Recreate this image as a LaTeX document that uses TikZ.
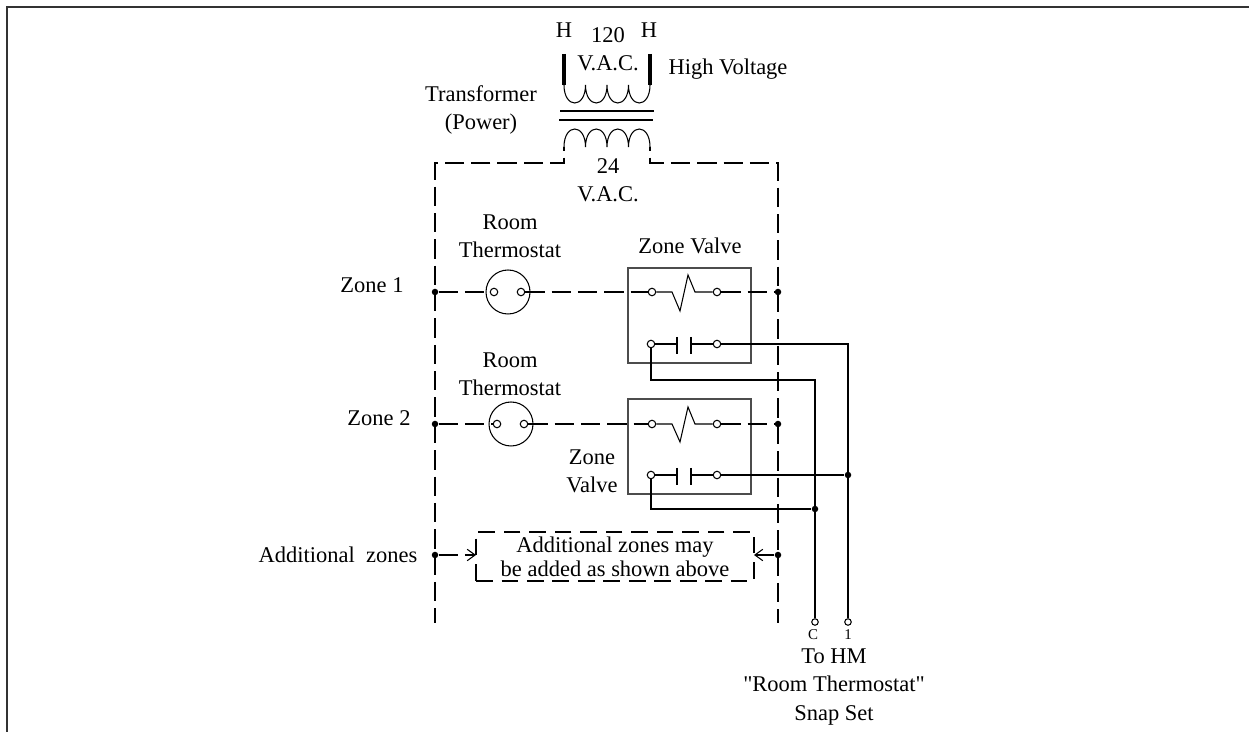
\documentclass[tikz,border=0pt]{standalone}
\usepackage{fontspec}
\setmainfont{Liberation Serif}
\newfontfamily\quotefont{Liberation Serif}
\usetikzlibrary{arrows.meta}
\tikzstyle{label}=[align=center,inner sep=0pt,font=\fontsize{12.8}{16}\selectfont]
\tikzstyle{tiny}=[inner sep=0pt,font=\fontsize{8.5}{10}\selectfont]
\tikzstyle{terminal}=[circle,draw,fill=white,line width=0.6pt,inner sep=0pt,minimum size=0.15cm]
\tikzstyle{junction}=[circle,fill=black,inner sep=0pt,minimum size=0.13cm]
\tikzstyle{thermostat}=[circle,draw,line width=0.6pt,inner sep=0pt,minimum size=0.88cm]
\tikzstyle{valve}=[draw=black!70,line width=0.7pt,inner sep=0pt,minimum width=2.46cm,minimum height=1.9cm]
\tikzstyle{dashwire}=[line width=0.95pt,dash pattern=on 11pt off 4pt]
\tikzstyle{wire}=[line width=0.85pt]
\tikzstyle{thinwire}=[line width=0.6pt]

\begin{document}
\begin{tikzpicture}[x=0.02cm,y=-0.02cm]
        \useasboundingbox (0,0) rectangle (1249,732);
        % Frame:
        \draw[line width=0.8pt,black!80] (7,732) -- (7,7) -- (1249,7);
        % Transformer:
        \node (h_l) [label] at (564,30) {H};
        \node (h_r) [label] at (649,30) {H};
        \node (vac_hi) [label] at (608,49) {120\\V.A.C.};
        \node (high) [label] at (728,69) {High Voltage};
        \node (trans) [label] at (481,110) {Transformer\\(Power)};
        \node (vac_lo) [label] at (608,180) {24\\V.A.C.};
        \coordinate (pri_l) at (564,85);
        \coordinate (pri_r) at (650,85);
        \coordinate (sec_l) at (564,147);
        \coordinate (sec_r) at (650,147);
        \draw[line width=2.6pt] (564,54) -- (pri_l);
        \draw[line width=2.6pt] (650,54) -- (pri_r);
        \draw[thinwire] (pri_l) .. controls (564,109) and (585.5,109) .. (585.5,85)
          .. controls (585.5,109) and (607,109) .. (607,85)
          .. controls (607,109) and (628.5,109) .. (628.5,85)
          .. controls (628.5,109) and (650,109) .. (pri_r);
        \draw[thinwire] (sec_l) .. controls (564,123) and (585.5,123) .. (585.5,147)
          .. controls (585.5,123) and (607,123) .. (607,147)
          .. controls (607,123) and (628.5,123) .. (628.5,147)
          .. controls (628.5,123) and (650,123) .. (sec_r);
        \draw[line width=0.7pt] (560,111) -- (654,111);
        \draw[line width=0.7pt] (559,120) -- (653,120);
        % Rails:
        \draw[dashwire,dash phase=9pt] (sec_l) -- (564,163) -- (435,163) -- (435,623);
        \draw[dashwire,dash phase=9pt] (sec_r) -- (650,163) -- (778,163) -- (778,623);
        % First zone:
        \node (zone_1) [label] at (372,285) {Zone 1};
        \node (room_1) [label] at (510,236) {Room\\Thermostat};
        \node (zv_1) [label] at (690,246) {Zone Valve};
        \node (box_1) [valve] at (689.5,315.5) {};
        \node (circ_1) [thermostat] at (508,292) {};
        \node (j_1l) [junction] at (435,292) {};
        \node (j_1r) [junction] at (778,292) {};
        \node (th_1a) [terminal] at (494,292) {};
        \node (th_1b) [terminal] at (521,292) {};
        \node (coil_1a) [terminal] at (652,292) {};
        \node (coil_1b) [terminal] at (717,292) {};
        \node (cont_1a) [terminal] at (651,344) {};
        \node (cont_1b) [terminal] at (717,344) {};
        % Second zone:
        \node (zone_2) [label] at (379,418) {Zone 2};
        \node (room_2) [label] at (510,374) {Room\\Thermostat};
        \node (zv_2) [label] at (592,471) {Zone\\Valve};
        \node (box_2) [valve] at (689.5,446.5) {};
        \node (circ_2) [thermostat] at (511,424) {};
        \node (j_2l) [junction] at (435,424) {};
        \node (j_2r) [junction] at (778,424) {};
        \node (th_2a) [terminal] at (497,424) {};
        \node (th_2b) [terminal] at (524,424) {};
        \node (coil_2a) [terminal] at (652,424) {};
        \node (coil_2b) [terminal] at (717,424) {};
        \node (cont_2a) [terminal] at (651,475) {};
        \node (cont_2b) [terminal] at (717,475) {};
        % Additional zones:
        \node (add) [label] at (338,555) {Additional\ \ zones};
        \node (addbox) [draw,dashwire,dash pattern=on 9.5pt off 5pt,align=center,inner sep=0pt,minimum width=5.56cm,minimum height=0.98cm,
          font=\fontsize{12.8}{13.6}\selectfont] at (615,556.5) {Additional zones may\\be added as shown above};
        \node (j_3l) [junction] at (435,555) {};
        \node (j_3r) [junction] at (778,555) {};
        % Outputs:
        \node (out_c) [terminal,minimum size=0.13cm] at (815,622) {};
        \node (out_1) [terminal,minimum size=0.13cm] at (848,622) {};
        \node (j_c) [junction] at (815,509) {};
        \node (j_1) [junction] at (848,475) {};
        \coordinate (bend_c) at (815,380);
        \node (lab_c) [tiny] at (813,635) {C};
        \node (lab_1) [tiny] at (848,635) {1};
        \node (to_hm) [label] at (834,687) {To HM\\{\quotefont"}Room Thermostat{\quotefont"}\\Snap Set};

        \draw[dashwire] (j_1l) -- (th_1a);
        \draw[dashwire] (th_1b) -- (coil_1a);
        \draw[dashwire] (coil_1b) -- (j_1r);
        \draw[thinwire] (coil_1a) -- (672,292) -- (680,311) -- (688,275) -- (695,292) -- (coil_1b);
        \draw[thinwire] (cont_1a) -- (677,344);
        \draw[thinwire] (cont_1b) -- (691,344);
        \draw[thinwire] (677,337) -- (677,354);
        \draw[thinwire] (691,337) -- (691,354);

        \draw[dashwire] (j_2l) -- (th_2a);
        \draw[dashwire] (th_2b) -- (coil_2a);
        \draw[dashwire] (coil_2b) -- (j_2r);
        \draw[thinwire] (coil_2a) -- (672,424) -- (680,442) -- (688,407) -- (695,424) -- (coil_2b);
        \draw[thinwire] (cont_2a) -- (677,475);
        \draw[thinwire] (cont_2b) -- (691,475);
        \draw[thinwire] (677,468) -- (677,485);
        \draw[thinwire] (691,468) -- (691,485);

        \draw[dashwire,-{Straight Barb[length=4.5pt,width=6.5pt,line width=0.6pt]}] (j_3l) -- (476,555);
        \draw[dashwire,-{Straight Barb[length=4.5pt,width=6.5pt,line width=0.6pt]}] (j_3r) -- (754,555);

        \draw[wire] (cont_1b) -| (out_1);
        \draw[wire] (cont_1a) |- (bend_c) -- (out_c);
        \draw[wire] (cont_2b) -- (j_1);
        \draw[wire] (cont_2a) |- (j_c);
\end{tikzpicture}
\end{document}
